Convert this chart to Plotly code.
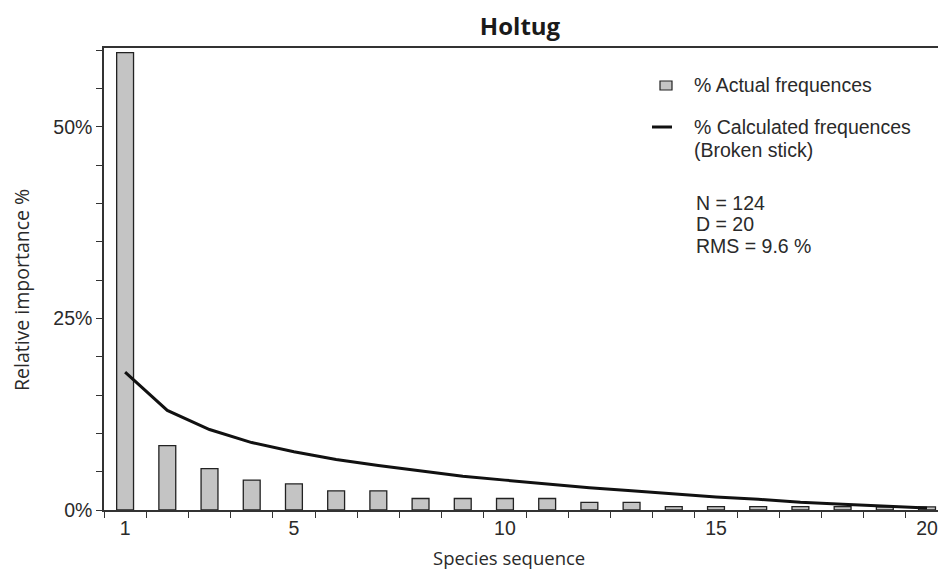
import plotly.graph_objects as go

species = list(range(1, 21))
actual_pct = [59.7, 8.4, 5.4, 3.9, 3.4, 2.5, 2.5, 1.5, 1.5, 1.5,
              1.5, 1.0, 1.0, 0.45, 0.45, 0.45, 0.45, 0.45, 0.4, 0.4]
broken_stick_pct = [18.0, 13.0, 10.5, 8.8, 7.6, 6.6, 5.8, 5.1, 4.4, 3.9,
                    3.4, 2.9, 2.5, 2.1, 1.7, 1.4, 1.0, 0.75, 0.5, 0.25]
x_tick_vals = [1, 5, 10, 15, 20]
y_tick_vals = [0, 25, 50]
y_tick_text = ["0%", "25%", "50%"]

AX = "#333333"
TXT = "#2a2a2a"
ARIAL = "Liberation Sans"
HUM = "Open Sans"

# page has 8px body margin; keep figure inside the viewport (no scrollbars)
OFF = 8
W, H = 930, 563
PL, PT, PR, PB = 104, 48, OFF + W, 510   # plot area in page px

fig = go.Figure()
fig.add_trace(go.Bar(x=species, y=actual_pct, width=0.4,
                     marker=dict(color="#c4c4c4", line=dict(color="#222222", width=1.3)),
                     showlegend=False))
fig.add_trace(go.Scatter(x=species, y=broken_stick_pct, mode="lines",
                         line=dict(color="#111111", width=3), showlegend=False))

fig.update_layout(
    width=W, height=H,
    margin=dict(l=PL - OFF, r=0, t=PT - OFF, b=H - (PB - OFF), autoexpand=False),
    plot_bgcolor="white", paper_bgcolor="white",
    title=dict(text="<b>Holtug</b>", x=(520 - OFF) / W, xanchor="center",
               y=1 - (27 - OFF) / H, yanchor="middle",
               font=dict(family=HUM, size=24, color="#1a1a1a")),
    font=dict(family=ARIAL, size=19.5, color=TXT),
    xaxis=dict(range=[0.5, 20.26], tickmode="array", tickvals=x_tick_vals,
               ticks="", showgrid=False, zeroline=False, ticklabeloverflow="allow",
               showline=True, linecolor=AX, linewidth=1.5, mirror=True,
               tickfont=dict(family=ARIAL, size=19.5, color=TXT),
               minor=dict(tick0=0.5, dtick=1, ticks="outside", ticklen=6,
                          tickwidth=1.2, tickcolor=AX, showgrid=False)),
    yaxis=dict(range=[0, 60.3], tickmode="array", tickvals=y_tick_vals, ticktext=y_tick_text,
               ticks="outside", ticklen=6, tickwidth=1.2, tickcolor=AX,
               showgrid=False, zeroline=False,
               showline=True, linecolor=AX, linewidth=1.5,
               tickfont=dict(family=ARIAL, size=19.5, color=TXT),
               minor=dict(tick0=0, dtick=5, ticks="outside", ticklen=6,
                          tickwidth=1.2, tickcolor=AX, showgrid=False)),
)

def fx(px):
    return (px - PL) / (PR - PL)

def fy(py):
    return (PB - py) / (PB - PT)

# axis titles
fig.add_annotation(xref="paper", yref="paper", x=fx(509), y=fy(557), text="Species sequence",
                   showarrow=False, xanchor="center", yanchor="middle",
                   font=dict(family=HUM, size=18.5, color=TXT))
fig.add_annotation(xref="paper", yref="paper", x=fx(21), y=fy(290), text="Relative importance %",
                   showarrow=False, xanchor="center", yanchor="middle", textangle=-90,
                   font=dict(family=HUM, size=19.5, color=TXT))

# legend drawn manually
fig.add_shape(type="rect", xref="paper", yref="paper",
              x0=fx(660), x1=fx(672), y0=fy(90), y1=fy(81),
              fillcolor="#c4c4c4", line=dict(color="#222222", width=1.2))
fig.add_shape(type="line", xref="paper", yref="paper",
              x0=fx(652), x1=fx(672), y0=fy(127), y1=fy(127),
              line=dict(color="#111111", width=3))

texts = [
    (693, 85, "% Actual frequences"),
    (693, 127, "% Calculated frequences"),
    (693, 150, "(Broken stick)"),
    (695, 203, "N = 124"),
    (695, 224, "D = 20"),
    (695, 246, "RMS = 9.6 %"),
]
for x, y, t in texts:
    fig.add_annotation(xref="paper", yref="paper", x=fx(x), y=fy(y),
                       text=t, showarrow=False, xanchor="left", yanchor="middle",
                       xshift=-1, font=dict(family=ARIAL, size=19.5, color=TXT))

fig.write_html("out.html")
